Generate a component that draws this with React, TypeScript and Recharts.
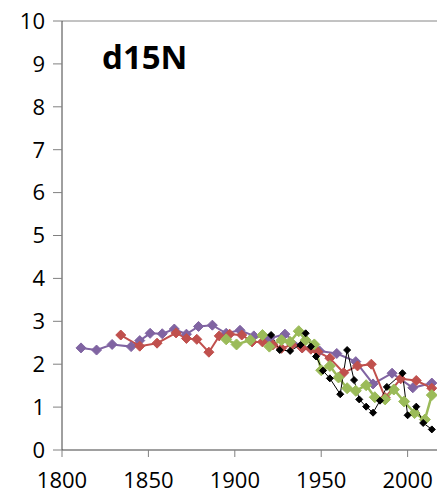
import React from 'react';
import { LineChart, Line, XAxis, YAxis, ReferenceLine } from 'recharts';

const purpleYears = [1811, 1820, 1829, 1840, 1845, 1851, 1858, 1865, 1872, 1879, 1887, 1895, 1903, 1911, 1920, 1929, 1939, 1949, 1959, 1970, 1980, 1991, 2003, 2014];
const purpleVals = [2.38, 2.33, 2.46, 2.41, 2.55, 2.72, 2.71, 2.82, 2.70, 2.88, 2.91, 2.72, 2.79, 2.66, 2.60, 2.70, 2.38, 2.31, 2.25, 2.06, 1.54, 1.79, 1.45, 1.56];

const redYears = [1834, 1845, 1855, 1866, 1872, 1878, 1885, 1891, 1897, 1904, 1910, 1916, 1922, 1927, 1933, 1939, 1944, 1948, 1955, 1963, 1971, 1979, 1987, 1996, 2005, 2014];
const redVals = [2.68, 2.42, 2.49, 2.73, 2.60, 2.58, 2.28, 2.66, 2.70, 2.68, 2.52, 2.52, 2.45, 2.37, 2.45, 2.38, 2.35, 2.29, 2.14, 1.80, 1.96, 2.00, 1.22, 1.66, 1.62, 1.44];

const greenYears = [1895, 1901, 1909, 1916, 1920, 1927, 1932, 1937, 1941, 1946, 1950, 1955, 1960, 1965, 1970, 1976, 1981, 1987, 1992, 1998, 2004, 2010, 2014];
const greenVals = [2.58, 2.46, 2.56, 2.68, 2.41, 2.56, 2.52, 2.77, 2.56, 2.46, 1.86, 1.96, 1.69, 1.44, 1.38, 1.51, 1.23, 1.18, 1.41, 1.13, 0.86, 0.71, 1.28];

const blackYears = [1921, 1926, 1932, 1938, 1941, 1944, 1947, 1951, 1955, 1961, 1965, 1969, 1972, 1976, 1980, 1984, 1988, 1997, 2000, 2005, 2009, 2014];
const blackVals = [2.68, 2.33, 2.31, 2.45, 2.72, 2.41, 2.18, 1.85, 1.67, 1.30, 2.33, 1.63, 1.18, 1.01, 0.87, 1.15, 1.47, 1.79, 0.81, 1.01, 0.63, 0.48];

const xTicks = [1800, 1850, 1900, 1950, 2000];
const yTicks = [0, 1, 2, 3, 4, 5, 6, 7, 8, 9, 10];

const toData = (years: number[], vals: number[]) => years.map((y, i) => ({ year: y, v: vals[i] }));

const purpleData = toData(purpleYears, purpleVals);
const redData = toData(redYears, redVals);
const greenData = toData(greenYears, greenVals);
const blackData = toData(blackYears, blackVals);

const makeDiamond = (color: string, r: number) => (props: any) => {
  const { cx, cy, index } = props;
  if (cx == null || cy == null) return <g key={index} />;
  return (
    <path
      key={index}
      d={`M${cx},${cy - r}L${cx + r},${cy}L${cx},${cy + r}L${cx - r},${cy}Z`}
      fill={color}
      stroke={color}
      strokeWidth={1}
    />
  );
};

const FONT = '"Open Sans", "Liberation Sans", sans-serif';

export default function App() {
  return (
    <div style={{ position: 'absolute', left: 0, top: 0 }}>
      <LineChart width={438} height={494} margin={{ top: 21, right: 1, left: 0, bottom: 0 }}>
        <XAxis
          type="number"
          dataKey="year"
          domain={[1800, 2017]}
          ticks={xTicks}
          allowDataOverflow
          height={44}
          tickSize={7}
          tickMargin={15}
          stroke="#a0a0a0"
          strokeWidth={2}
          tick={{ fill: '#000', fontSize: 22, fontFamily: FONT }}
          tickLine={{ stroke: '#808080', strokeWidth: 1 }}
        />
        <YAxis
          type="number"
          domain={[0, 10]}
          ticks={yTicks}
          width={62}
          tickSize={9}
          tickMargin={8}
          stroke="#404040"
          tick={{ fill: '#000', fontSize: 22, fontFamily: FONT }}
          tickLine={{ stroke: '#808080' }}
        />
        <ReferenceLine y={10} stroke="#868686" strokeWidth={1} />
        <Line data={purpleData} dataKey="v" stroke="#8064A2" strokeWidth={2} dot={makeDiamond('#8064A2', 5)} isAnimationActive={false} />
        <Line data={redData} dataKey="v" stroke="#C0504D" strokeWidth={2} dot={makeDiamond('#C0504D', 5)} isAnimationActive={false} />
        <Line data={greenData} dataKey="v" stroke="#9BBB59" strokeWidth={2.5} dot={makeDiamond('#9BBB59', 5.5)} isAnimationActive={false} />
        <Line data={blackData} dataKey="v" stroke="#000000" strokeWidth={1} dot={makeDiamond('#000000', 3.5)} isAnimationActive={false} />
        <text x={102} y={69} fontSize={33} fontWeight="bold" fontFamily={FONT} fill="#000">d15N</text>
      </LineChart>
    </div>
  );
}
